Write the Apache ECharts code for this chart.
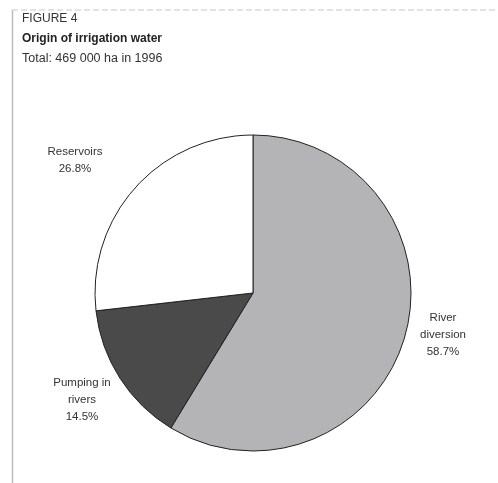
<!DOCTYPE html>
<html lang="en">
  <head>
    <meta charset="UTF-8" />
    <title>Origin of irrigation water</title>
    <script src="https://cdn.jsdelivr.net/npm/echarts@6/dist/echarts.min.js"></script>
    <style>
      * {
        margin: 0;
        padding: 0;
      }
      html,
      body {
        background: #fff;
      }
    </style>
  </head>
  <body>
    <div id="charts" style="width: 498px; height: 483px"></div>
    <script>
      var categories = ["River\ndiversion", "Pumping in\nrivers", "Reservoirs"];
      var shares = [58.7, 14.5, 26.8];
      var sliceColors = ["#b4b4b6", "#4a4a4a", "#ffffff"];

      // where each slice label sits (label centre), as in the printed figure
      var labelSpots = [
        [443, 335],
        [82, 400],
        [75, 160],
      ];

      var myEcharts = echarts.init(document.getElementById("charts"));
      var pieData = categories.map(function (name, i) {
        return {
          name: name,
          value: shares[i],
          itemStyle: { color: sliceColors[i] },
        };
      });

      var options = {
        backgroundColor: "#fff",
        animation: false,
        graphic: [
          // frame of the original figure
          {
            type: "line",
            shape: { x1: 12, y1: 10, x2: 498, y2: 10 },
            style: { stroke: "#c8c8c8", lineWidth: 1, lineDash: [6, 3] },
          },
          {
            type: "line",
            shape: { x1: 12.5, y1: 10, x2: 12.5, y2: 483 },
            style: { stroke: "#bdbdbd", lineWidth: 1.5 },
          },
          {
            type: "text",
            left: 22,
            top: 13,
            style: {
              text: "FIGURE 4",
              font: '12px "Liberation Sans", Arial, sans-serif',
              fill: "#333",
            },
          },
          {
            type: "text",
            left: 22,
            top: 33,
            style: {
              text: "Origin of irrigation water",
              font: 'bold 12px "Liberation Sans", Arial, sans-serif',
              fill: "#222",
            },
          },
          {
            type: "text",
            left: 22,
            top: 52,
            style: {
              text: "Total: 469 000 ha in 1996",
              font: '12.5px "Liberation Sans", Arial, sans-serif',
              fill: "#333",
            },
          },
        ],
        series: [
          {
            type: "pie",
            center: [253, 293],
            radius: [0, 158],
            startAngle: 90,
            clockwise: true,
            data: pieData,
            itemStyle: {
              borderColor: "#222",
              borderWidth: 1,
            },
            label: {
              show: true,
              position: "inside",
              formatter: function (p) {
                return p.name + "\n" + p.value.toFixed(1) + "%";
              },
              fontFamily: '"Liberation Sans", Arial, sans-serif',
              fontSize: 11.5,
              lineHeight: 17,
              color: "#333",
              align: "center",
              overflow: "none",
            },
            labelLine: { show: false },
            labelLayout: function (params) {
              var spot = labelSpots[params.dataIndex];
              return {
                x: spot[0],
                y: spot[1],
                align: "center",
                verticalAlign: "middle",
              };
            },
            emphasis: { disabled: true },
          },
        ],
      };
      myEcharts.setOption(options);
    </script>
  </body>
</html>
